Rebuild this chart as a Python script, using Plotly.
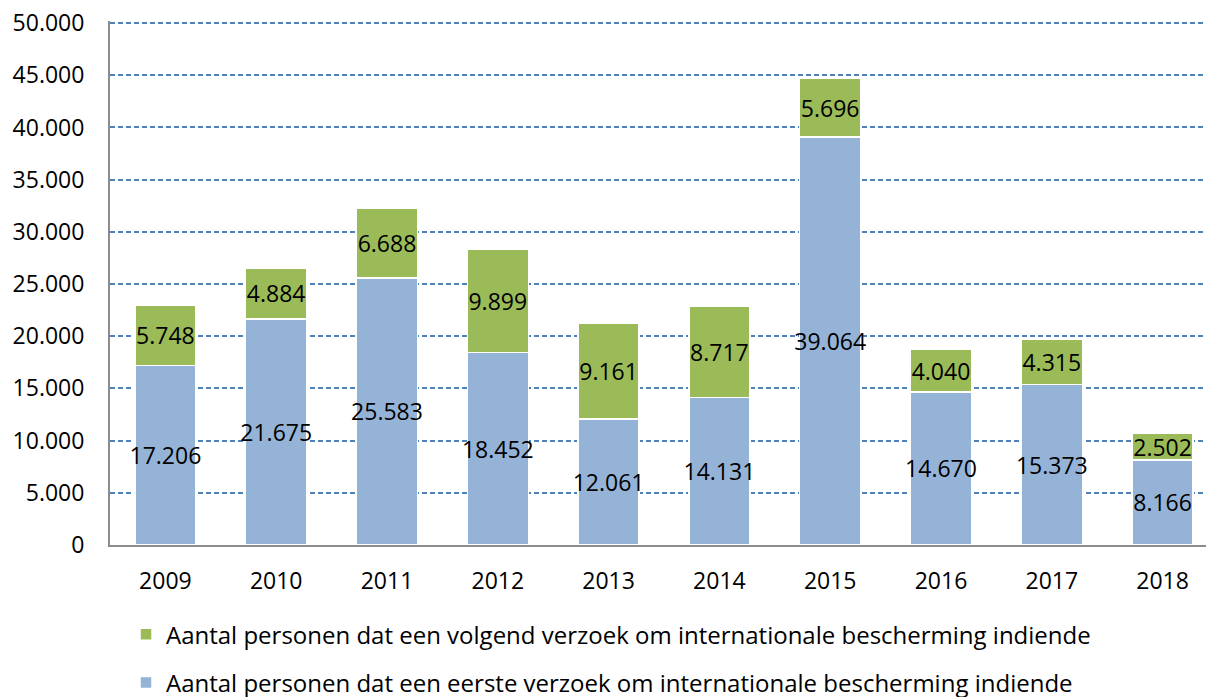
import plotly.graph_objects as go

years = ["2009", "2010", "2011", "2012", "2013", "2014", "2015", "2016", "2017", "2018"]
eerste = [17206, 21675, 25583, 18452, 12061, 14131, 39064, 14670, 15373, 8166]
volgend = [5748, 4884, 6688, 9899, 9161, 8717, 5696, 4040, 4315, 2502]
name_eerste = "Aantal personen dat een eerste verzoek om internationale bescherming indiende"
name_volgend = "Aantal personen dat een volgend verzoek om internationale bescherming indiende"
y_ticks = [0, 5000, 10000, 15000, 20000, 25000, 30000, 35000, 40000, 45000, 50000]

FONT = "Open Sans"
fig = go.Figure()
for vals, name, color, grp, rank in [(eerste, name_eerste, "#95B3D7", "a", 2), (volgend, name_volgend, "#9BBB59", "b", 1)]:
    fig.add_trace(go.Bar(
        x=years, y=vals, name=name, legendgroup=grp, legendrank=rank,
        marker=dict(color=color, line=dict(color="white", width=1.5)),
        width=0.55,
        texttemplate="%{y:,.0f}", textposition="inside", insidetextanchor="middle",
        textangle=0, constraintext="none",
        textfont=dict(family=FONT, size=23, color="black"),
        hoverinfo="skip",
    ))

fig.update_layout(
    barmode="stack",
    width=1206, height=689,
    separators=",.",
    plot_bgcolor="white", paper_bgcolor="white",
    margin=dict(l=102, r=0, t=13, b=152, autoexpand=False),
    font=dict(family=FONT, size=23, color="black"),
    legend=dict(
        traceorder="grouped", tracegroupgap=14,
        orientation="v", xref="container", yref="container",
        x=0.5, xanchor="center", y=0.123, yanchor="top",
        font=dict(family=FONT, size=24, color="black"),
        itemwidth=30,
    ),
    showlegend=True,
)
fig.update_xaxes(
    type="category", range=[-0.5, 9.464],
    showline=True, linecolor="#8C8C8C", linewidth=2,
    ticks="", showgrid=False, tickangle=0, automargin=False,
    tickfont=dict(family=FONT, size=23, color="black"),
    ticklabelstandoff=14,
)
fig.update_yaxes(
    range=[0, 50200], tickvals=y_ticks, tickformat=",.0f",
    showline=True, linecolor="#8C8C8C", linewidth=2, automargin=False,
    showgrid=True, gridcolor="#4F81BD", gridwidth=1.5, griddash="5px,3px",
    zeroline=False, ticks="", ticklabeloverflow="allow",
    tickfont=dict(family=FONT, size=23, color="black"),
    ticklabelstandoff=19,
)
fig.write_html("out.html")
